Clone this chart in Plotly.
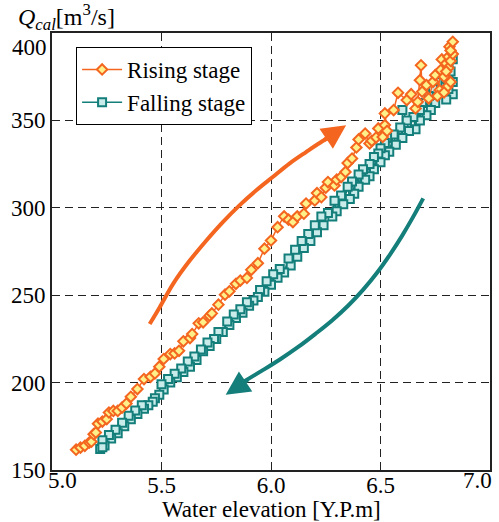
import plotly.graph_objects as go

# ---------------- data ----------------
rising_x = [5.11, 5.13, 5.15, 5.17, 5.18, 5.19, 5.20, 5.21, 5.23, 5.25, 5.26, 5.28, 5.30, 5.32, 5.34,
            5.36, 5.39, 5.42, 5.45, 5.47, 5.49, 5.51, 5.54, 5.56, 5.58, 5.60, 5.63, 5.64, 5.67, 5.69,
            5.72, 5.73, 5.76, 5.79, 5.81, 5.84, 5.86, 5.89, 5.91, 5.94, 5.97, 6.00, 6.03, 6.06, 6.08,
            6.10, 6.12, 6.15, 6.16, 6.20, 6.21, 6.23, 6.25, 6.26, 6.29, 6.30, 6.32, 6.34, 6.35, 6.37,
            6.39, 6.40, 6.43, 6.45, 6.46, 6.48, 6.49, 6.51, 6.52, 6.53, 6.52, 6.56, 6.58, 6.62, 6.64,
            6.66, 6.67, 6.68, 6.685, 6.69, 6.71, 6.72, 6.74, 6.75, 6.77, 6.76, 6.775, 6.78, 6.79, 6.80,
            6.805, 6.79, 6.82, 6.81, 6.80, 6.81, 6.82, 6.83, 6.815, 6.82, 6.83]
rising_y = [161.6, 162.8, 163.8, 165.7, 166.2, 170.5, 171.4, 176.5, 177.7, 179.1, 182.9, 183.8, 183.8, 185.7, 188.0,
            191.9, 196.3, 202.0, 203.3, 205.2, 209.1, 213.5, 216.3, 216.7, 218.2, 223.6, 225.5, 227.8, 233.9, 234.5,
            238.3, 239.6, 244.6, 250.3, 252.2, 256.5, 258.4, 259.9, 264.5, 268.3, 276.6, 281.3, 288.9, 295.1, 293.2,
            291.8, 295.1, 296.6, 302.4, 304.2, 308.4, 306.1, 311.5, 314.7, 312.8, 316.1, 317.6, 320.5, 325.6, 328.2,
            334.5, 339.1, 342.5, 336.8, 338.3, 340.2, 345.4, 340.5, 347.3, 344.0, 354.0, 355.9, 365.8, 361.6, 365.0,
            356.8, 360.6, 373.0, 381.5, 366.4, 370.2, 362.6, 372.1, 375.9, 367.3, 364.0, 378.8, 384.9, 375.0, 382.6,
            369.2, 366.0, 372.0, 380.0, 378.0, 386.4, 384.0, 388.0, 392.2, 390.0, 395.0]

falling_x = [6.83, 6.83, 6.82, 6.83, 6.81, 6.80, 6.79, 6.80, 6.78, 6.77, 6.76, 6.75, 6.74, 6.73, 6.72,
             6.71, 6.69, 6.68, 6.68, 6.66, 6.65, 6.63, 6.62, 6.60, 6.60, 6.59, 6.57, 6.56, 6.54, 6.53,
             6.52, 6.52, 6.50, 6.50, 6.49, 6.47, 6.47, 6.45, 6.45, 6.43, 6.42, 6.40, 6.40, 6.38, 6.37,
             6.36, 6.35, 6.33, 6.32, 6.30, 6.29, 6.28, 6.26, 6.24, 6.23, 6.21, 6.20, 6.18, 6.17, 6.15,
             6.14, 6.12, 6.11, 6.09, 6.08, 6.06, 6.04, 6.03, 6.01, 6.00, 5.98, 5.97, 5.95, 5.94, 5.92,
             5.90, 5.89, 5.87, 5.86, 5.84, 5.83, 5.81, 5.80, 5.78, 5.76, 5.75, 5.74, 5.72, 5.71, 5.69,
             5.68, 5.66, 5.65, 5.63, 5.62, 5.60, 5.59, 5.57, 5.56, 5.54, 5.53, 5.51, 5.50, 5.49, 5.47,
             5.46, 5.44, 5.42, 5.41, 5.39, 5.38, 5.36, 5.35, 5.33, 5.32, 5.30, 5.29, 5.27, 5.26, 5.24,
             5.23, 5.22, 5.23]
falling_y = [385, 372, 378, 365, 368, 380, 374, 362, 376, 366, 372, 360, 368, 356, 364,
             353, 360, 350, 356, 345, 352, 344, 350, 356, 340, 346, 336, 342, 332, 340,
             330, 337, 326, 334, 331, 322, 329, 318, 325, 316, 322, 312, 319, 308, 315,
             305, 312, 302, 307, 298, 304, 295, 297, 290, 295, 286, 290, 281, 285, 277,
             281, 272, 276, 267, 271, 263, 265, 260, 262, 256, 258, 252, 253, 249, 247,
             244, 246, 240, 242, 237, 239, 233, 235, 229, 229, 225, 225, 221, 223, 218,
             219, 213, 215, 209, 212, 206, 208, 203, 205, 200, 202, 196, 199, 193, 191,
             189, 187, 185, 187, 182, 184, 179, 181, 175, 177, 171, 173, 168, 170, 164,
             167, 162, 163]

# decorative curved arrows (data coords along their paths)
rise_arrow_x = [5.446, 5.492, 5.553, 5.629, 5.705, 5.780, 5.856, 5.933, 6.008, 6.084, 6.160, 6.236, 6.262]
rise_arrow_y = [233.5, 243.1, 256.5, 269.8, 281.3, 291.8, 301.4, 310.0, 317.6, 325.3, 331.9, 338.2, 340.0]
fall_arrow_x = [6.695, 6.649, 6.599, 6.544, 6.485, 6.421, 6.353, 6.280, 6.203, 6.121, 6.039, 5.957, 5.875]
fall_arrow_y = [305.4, 294.8, 284.1, 273.4, 263.0, 253.2, 244.1, 235.7, 227.9, 220.1, 213.1, 206.7, 200.5]

x_ticks = [5.0, 5.5, 6.0, 6.5, 7.0]
y_ticks = [150, 200, 250, 300, 350, 400]

ORANGE = "#F4661F"
ORANGE_FILL = "#FFF08A"
TEAL = "#137E7A"
TEAL_FILL = "#C9ECEB"
FONT = "Liberation Serif"

fig = go.Figure()

fig.add_trace(go.Scatter(x=rise_arrow_x, y=rise_arrow_y, mode="lines",
                         line=dict(color=ORANGE, width=4, shape="spline", smoothing=1.0),
                         showlegend=False, hoverinfo="skip"))
fig.add_trace(go.Scatter(x=fall_arrow_x, y=fall_arrow_y, mode="lines",
                         line=dict(color=TEAL, width=4, shape="spline", smoothing=1.0),
                         showlegend=False, hoverinfo="skip"))

fig.add_trace(go.Scatter(
    x=falling_x, y=falling_y, mode="lines+markers", name="Falling stage", legendrank=2,
    line=dict(color=TEAL, width=1.5),
    marker=dict(symbol="square", size=8, color=TEAL_FILL, line=dict(color=TEAL, width=2))))
fig.add_trace(go.Scatter(
    x=rising_x, y=rising_y, mode="lines+markers", name="Rising stage", legendrank=1,
    line=dict(color=ORANGE, width=1.5),
    marker=dict(symbol="diamond", size=8, color=ORANGE_FILL, line=dict(color=ORANGE, width=2))))

# arrow heads
fig.add_annotation(x=6.343, y=347.2, ax=6.236, ay=338.2, xref="x", yref="y", axref="x", ayref="y",
                   text="", showarrow=True, arrowhead=2, arrowsize=1.2, arrowwidth=4, arrowcolor=ORANGE)
fig.add_annotation(x=5.793, y=193.0, ax=5.900, ay=202.0, xref="x", yref="y", axref="x", ayref="y",
                   text="", showarrow=True, arrowhead=2, arrowsize=1.2, arrowwidth=4, arrowcolor=TEAL)

TF = dict(family=FONT, size=23, color="black")
# edge tick labels (shifted inward as in the original)
fig.add_annotation(x=5.0, y=0, xref="x", yref="paper", text="5.0", showarrow=False, xshift=10, yshift=-10,
                   yanchor="middle", font=TF)
fig.add_annotation(x=7.0, y=0, xref="x", yref="paper", text="7.0", showarrow=False, xshift=-13, yshift=-10,
                   yanchor="middle", font=TF)
fig.add_annotation(x=0, y=400, xref="paper", yref="y", text="400", showarrow=False, xanchor="right", xshift=-3,
                   yshift=-14, font=TF)

# axis titles
fig.add_annotation(x=0.5, y=-0.091, xref="paper", yref="paper", xanchor="center", yanchor="middle",
                   text="Water elevation [Y.P.m]", showarrow=False, font=TF)
fig.add_annotation(x=-0.083, y=1.036, xref="paper", yref="paper", xanchor="left", yanchor="middle",
                   text="<i>Q</i><sub><i>cal</i></sub>[m<sup>3</sup>/s]", showarrow=False,
                   font=dict(family=FONT, size=24, color="black"))

grid = dict(showgrid=True, gridcolor="#222222", gridwidth=1, griddash="8px,5px",
            showline=True, linecolor="#222222", linewidth=2, mirror=True, ticks="", zeroline=False,
            automargin=False, tickfont=TF)

fig.update_xaxes(range=[5.0, 7.0], tickvals=x_ticks, ticktext=["", "5.5", "6.0", "6.5", ""],
                 ticklabelstandoff=-7, **grid)
fig.update_yaxes(range=[150, 400], tickvals=y_ticks, ticktext=["150", "200", "250", "300", "350", ""], **grid)

fig.update_layout(
    width=499, height=522,
    margin=dict(l=52, r=9, t=33, b=52, autoexpand=False),
    paper_bgcolor="white", plot_bgcolor="white",
    font=TF,
    legend=dict(x=0.055, y=0.968, xanchor="left", yanchor="top", bgcolor="white",
                bordercolor="black", borderwidth=1, font=TF,
                tracegroupgap=7, itemwidth=40),
    showlegend=True,
)

fig.write_html("out.html", post_script="document.body.style.margin='0px';",
               config={"displayModeBar": False})
